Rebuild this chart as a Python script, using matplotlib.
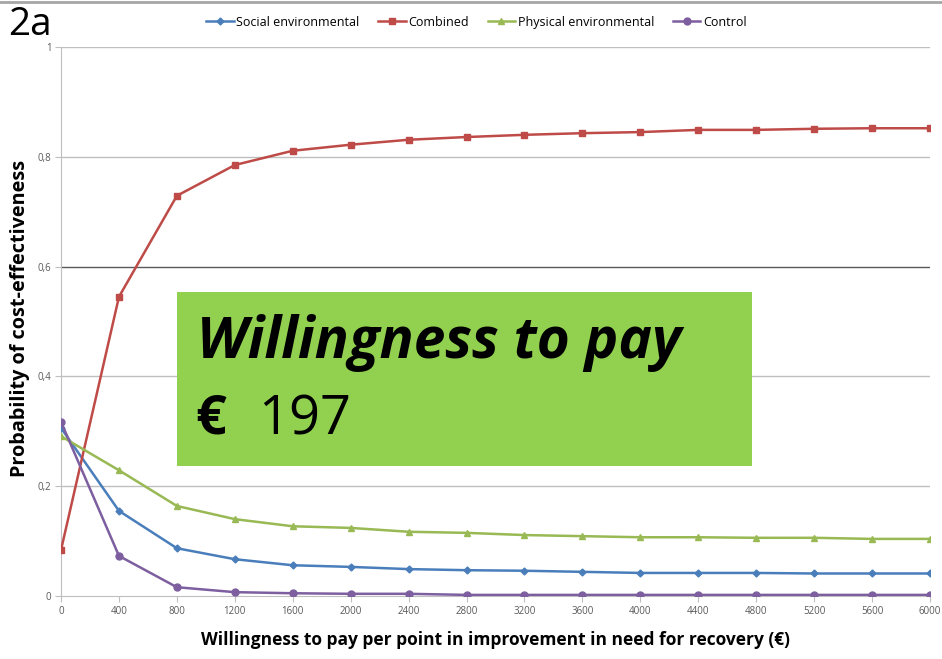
import matplotlib.pyplot as plt
from matplotlib.lines import Line2D
from matplotlib.patches import Rectangle

# willingness to pay (€) per point
wtp = [0, 400, 800, 1200, 1600, 2000, 2400, 2800, 3200, 3600, 4000, 4400, 4800, 5200, 5600, 6000]

social = [0.306, 0.155, 0.087, 0.067, 0.056, 0.053, 0.049, 0.047, 0.046, 0.044, 0.042, 0.042, 0.042, 0.041, 0.041, 0.041]
combined = [0.084, 0.545, 0.729, 0.785, 0.811, 0.822, 0.831, 0.836, 0.840, 0.843, 0.845, 0.849, 0.849, 0.851, 0.852, 0.852]
physical = [0.291, 0.229, 0.164, 0.140, 0.127, 0.124, 0.117, 0.115, 0.111, 0.109, 0.107, 0.107, 0.106, 0.106, 0.104, 0.104]
control = [0.317, 0.073, 0.016, 0.007, 0.005, 0.004, 0.004, 0.002, 0.002, 0.002, 0.002, 0.002, 0.002, 0.002, 0.002, 0.002]

yticks = [0, 0.2, 0.4, 0.6, 0.8, 1]
ytick_labels = ['0', '0,2', '0,4', '0,6', '0,8', '1']

plt.rcParams['font.family'] = ['Open Sans', 'DejaVu Sans']

fig = plt.figure(figsize=(9.42, 6.59), dpi=100)
ax = fig.add_axes([0.0648, 0.0956, 0.9224, 0.8331])

series = [
    ('Social environmental', social, '#4A7EBB', 'D', 3.5),
    ('Combined', combined, '#BE4B48', 's', 4),
    ('Physical environmental', physical, '#98B954', '^', 5),
    ('Control', control, '#7D5FA0', 'o', 5),
]
for name, vals, col, mk, ms in series:
    ax.plot(wtp, vals, color=col, lw=1.8, marker=mk, ms=ms, label=name, zorder=3)

ax.set_xlim(0, 6000)
ax.set_ylim(0, 1)
ax.set_xticks(wtp)
ax.set_xticklabels([str(v) for v in wtp], fontsize=7, color='#595959')
ax.set_yticks(yticks)
ax.set_yticklabels(ytick_labels, fontsize=7, color='#595959')
ax.tick_params(length=4, color='#bfbfbf', pad=3)

for y in yticks[1:]:
    c = '#595959' if y == 0.6 else '#bfbfbf'
    ax.axhline(y, color=c, lw=1, zorder=1)

for s in ['top', 'right']:
    ax.spines[s].set_visible(False)
ax.spines['left'].set_color('#bfbfbf')
ax.spines['bottom'].set_color('#bfbfbf')

ax.set_xlabel('Willingness to pay per point in improvement in need for recovery (€)',
              fontsize=12.5, fontweight='bold', labelpad=10)
ax.set_ylabel('Probability of cost-effectiveness', fontsize=14.3, fontweight='bold')
ax.yaxis.set_label_coords(-0.036, 0.505)

ax.legend(loc='center', bbox_to_anchor=(0.478, 1.045), ncol=4, frameon=False,
          fontsize=9, handlelength=2.2, columnspacing=1.5, handletextpad=0.2)

# green annotation box
box = Rectangle((177 / 942, 1 - 466 / 659), (752 - 177) / 942, (466 - 292) / 659,
                transform=fig.transFigure, facecolor='#92D050', edgecolor='none', zorder=5)
fig.patches.append(box)
fig.text(197 / 942, 1 - 343 / 659, 'Willingness to pay', fontsize=40.8, fontweight='bold',
         style='italic', va='center', ha='left', zorder=6)
fig.text(195 / 942, 1 - 420 / 659, '€', fontsize=39, fontweight='bold', va='center', ha='left', zorder=6)
fig.text(258 / 942, 1 - 420 / 659, '197', fontsize=39, va='center', ha='left', zorder=6)

fig.text(8 / 942, 1 - 25 / 659, '2a', fontsize=28, va='center', ha='left')
fig.add_artist(Line2D([0, 1], [1 - 2 / 659, 1 - 2 / 659], transform=fig.transFigure,
                      color='#a6a6a6', lw=2))

fig.savefig('out.png', dpi=100)
